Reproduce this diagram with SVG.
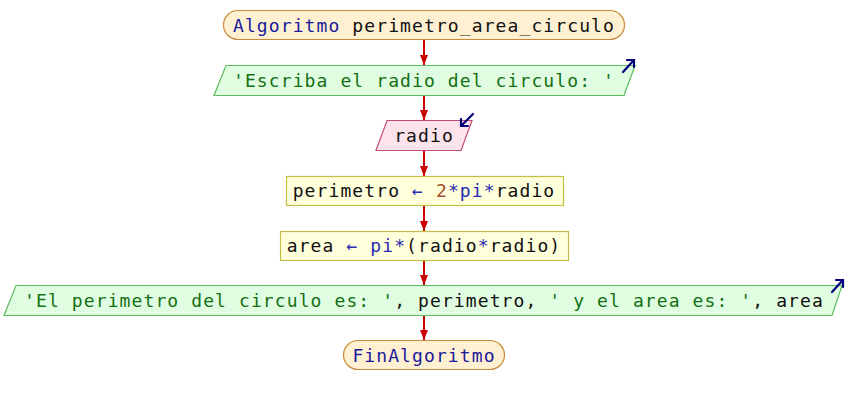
<svg xmlns="http://www.w3.org/2000/svg" width="848" height="405" viewBox="0 0 848 405">
  <defs>
    <marker id="flow" viewBox="0 0 10 8" refX="10" refY="4" markerWidth="10" markerHeight="8" markerUnits="userSpaceOnUse" orient="auto">
      <path d="M0,0 L10,4 L0,8 Z" fill="#cc0000"/>
    </marker>
  </defs>
  <style>
    text { font-family: "DejaVu Sans Mono", "Liberation Mono", monospace; font-size: 18px; letter-spacing: 1.1px; text-anchor: middle; fill: #111; }
    .term { fill: #fff0d2; stroke: #c8893a; stroke-width: 1.2; }
    .out { fill: #e1fde1; stroke: #5cbb5c; stroke-width: 1.2; }
    .in { fill: #fde3ec; stroke: #c44c7c; stroke-width: 1.2; }
    .proc { fill: #ffffdc; stroke: #c2c044; stroke-width: 1.2; }
    .kw { fill: #1a1a9a; }
    .str { fill: #137013; }
    .num { fill: #a0522d; }
    .op { fill: #2a2ab0; }
    .icon { fill: none; stroke: #00007a; stroke-width: 2.2; stroke-linecap: round; stroke-linejoin: miter; }
    .edge { stroke: #cc0000; stroke-width: 2; fill: none; }
  </style>

  <g id="connectors">
    <line class="edge" x1="424" y1="39" x2="424" y2="65" marker-end="url(#flow)"/>
    <line class="edge" x1="424" y1="95" x2="424" y2="120" marker-end="url(#flow)"/>
    <line class="edge" x1="424" y1="150" x2="424" y2="176" marker-end="url(#flow)"/>
    <line class="edge" x1="424" y1="205" x2="424" y2="231" marker-end="url(#flow)"/>
    <line class="edge" x1="424" y1="260" x2="424" y2="285" marker-end="url(#flow)"/>
    <line class="edge" x1="424" y1="315" x2="424" y2="340" marker-end="url(#flow)"/>
  </g>

  <g id="start">
    <rect class="term" x="223.5" y="10.5" width="401" height="29" rx="14.5" ry="14.5"/>
    <text x="424" y="31.5"><tspan class="kw">Algoritmo</tspan> perimetro_area_circulo</text>
  </g>

  <g id="write-prompt">
    <polygon class="out" points="226,65.5 635,65.5 624,95.5 214,95.5"/>
    <text x="424" y="87" class="str">'Escriba el radio del circulo: '</text>
    <path class="icon" d="M623,72 L634,60 M627,60 L634,60 L634,67"/>
  </g>

  <g id="read-radio">
    <polygon class="in" points="387,120.5 472,120.5 461,150.5 376,150.5"/>
    <text x="424" y="142">radio</text>
    <path class="icon" d="M473,114 L461,126 M461,119 L461,126 L468,126"/>
  </g>

  <g id="calc-perimeter">
    <rect class="proc" x="286.5" y="176.5" width="277" height="29"/>
    <text x="424" y="197">perimetro <tspan class="op">←</tspan> <tspan class="num">2</tspan><tspan class="op">*pi*</tspan>radio</text>
  </g>

  <g id="calc-area">
    <rect class="proc" x="280.5" y="231.5" width="288" height="29"/>
    <text x="424" y="252">area <tspan class="op">←</tspan> <tspan class="op">pi*</tspan>(radio<tspan class="op">*</tspan>radio)</text>
  </g>

  <g id="write-result">
    <polygon class="out" points="16,285.5 842,285.5 832,315.5 4,315.5"/>
    <text x="424" y="307"><tspan class="str">'El perimetro del circulo es: '</tspan>, perimetro, <tspan class="str">' y el area es: '</tspan>, area</text>
    <path class="icon" d="M832,292 L843,280 M836,280 L843,280 L843,287"/>
  </g>

  <g id="end">
    <rect class="term" x="343.5" y="340.5" width="161" height="29" rx="14.5" ry="14.5"/>
    <text x="424" y="361.5" class="kw">FinAlgoritmo</text>
  </g>
</svg>
